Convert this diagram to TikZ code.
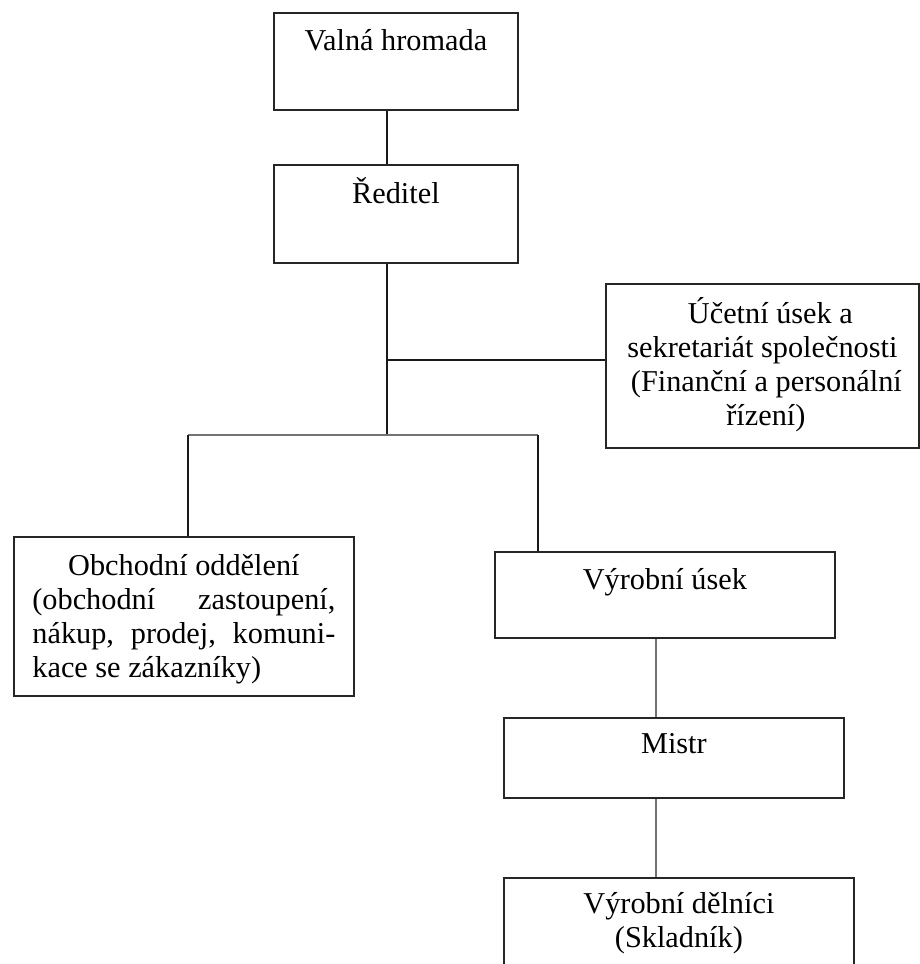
\documentclass[tikz,border=0pt]{standalone}
\usepackage{fontspec}
\setmainfont{Liberation Serif}
\newcommand\boxcontent[4]{\parbox[c][#2][t]{#1}{\centering\rule{0pt}{#3}#4}}
\tikzset{
  orgbox/.style={draw=black!85, line width=1.8pt, inner sep=0pt, anchor=north west, fill=white},
  link/.style={draw=black!90, line width=1.7pt},
  graylink/.style={draw=black!55, line width=2.4pt},
  barlink/.style={draw=black!55, line width=2.8pt}
}
\begin{document}
\begin{tikzpicture}[x=1pt, y=-1pt, font=\fontsize{30.3pt}{34pt}\selectfont]
\useasboundingbox (0,0) rectangle (920,964);
\clip (0,0) rectangle (920,964);
\fill[white] (0,0) rectangle (920,964);

\node[orgbox] (vh) at (273,12) {\boxcontent{244pt}{97pt}{38pt}{Valná hromada}};
\node[orgbox] (red) at (273,164) {\boxcontent{244pt}{98pt}{39pt}{Ředitel}};
\node[orgbox] (uc) at (605,283) {\boxcontent{313pt}{164pt}{40pt}{\hspace*{16pt}Účetní úsek a\\ sekretariát společnosti\hspace*{15pt}\\ \hspace*{8pt}(Finanční a personální\\ \hspace*{7pt}řízení)}};
\node[orgbox] (ob) at (13,536) {\boxcontent{340pt}{159pt}{39pt}{Obchodní oddělení\\ \makebox[303pt][s]{(obchodní zastoupení,}\\ \makebox[303pt][s]{nákup, prodej, komuni-}\\ \makebox[303pt][l]{kace se zákazníky)}}};
\node[orgbox] (vu) at (494,551) {\boxcontent{340pt}{86pt}{38pt}{Výrobní úsek}};
\node[orgbox] (mi) at (503,717) {\boxcontent{340pt}{80pt}{36pt}{Mistr}};
\node[orgbox] (vd) at (503,877) {\boxcontent{350pt}{123pt}{36pt}{Výrobní dělníci\\ (Skladník)}};

\coordinate (spine) at (387,0);
\coordinate (junc) at (387,360);
\coordinate (bar) at (387,435);
\coordinate (barL) at (188,435);
\coordinate (barR) at (538,435);
\coordinate (prod) at (656,0);

\draw[link] (spine |- vh.south) -- (spine |- red.north);
\draw[link] (spine |- red.south) -- (bar);
\draw[link] (junc) -- (junc -| uc.west);
\draw[barlink] (barL) -- (barR);
\draw[link] (barL) -- (barL |- ob.north);
\draw[link] (barR) -- (barR |- vu.north);
\draw[graylink] (prod |- vu.south) -- (prod |- mi.north);
\draw[graylink] (prod |- mi.south) -- (prod |- vd.north);
\end{tikzpicture}
\end{document}
